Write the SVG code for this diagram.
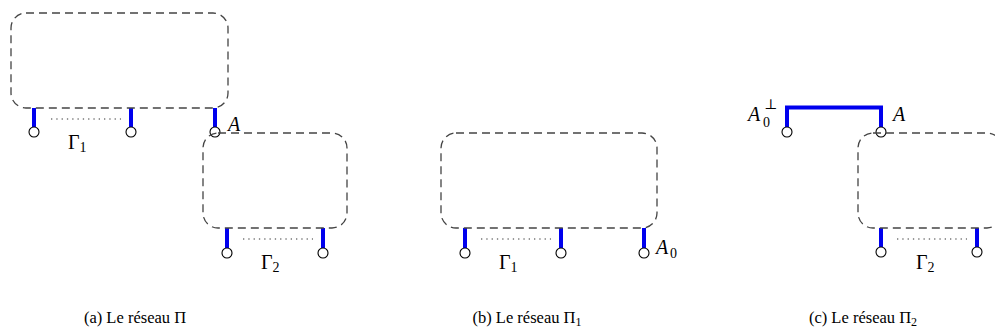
<svg xmlns="http://www.w3.org/2000/svg" width="995" height="335" viewBox="0 0 995 335">
<style>
.box{fill:none;stroke:#444;stroke-width:1.3;stroke-dasharray:8 5}
.stub{stroke:#0000ee;stroke-width:4;fill:none}
.port{fill:#fff;stroke:#000;stroke-width:1.1}
.dots{stroke:#333;stroke-width:1.2;stroke-dasharray:1.3 4}
text{font-family:"Liberation Serif","DejaVu Serif","Times New Roman",serif;fill:#000}
.m{font-size:20px}
.mi{font-size:20px;font-style:italic}
.sub{font-size:14px}
.cap{font-size:16.5px;text-anchor:middle}
</style>
<rect width="995" height="335" fill="#fff"/>
<g id="connectors">
<path class="stub" d="M34 108V127M131 108V127M215 108V127"/>
<path class="stub" d="M227 228V248M323 228V248"/>
<path class="stub" d="M465 228V248M561 228V248M644 228V248"/>
<path class="stub" d="M787 127V107.5H881V127"/>
<path class="stub" d="M881 228V247M977 228V247"/>
<line class="dots" x1="51" y1="119" x2="121" y2="119"/>
<line class="dots" x1="243" y1="239" x2="313" y2="239"/>
<line class="dots" x1="481" y1="239" x2="551" y2="239"/>
<line class="dots" x1="897" y1="239" x2="967" y2="239"/>
</g>
<g id="ports">
<circle class="port" cx="34" cy="132" r="5"/>
<circle class="port" cx="131" cy="132" r="5"/>
<circle class="port" cx="215" cy="132" r="5"/>
<circle class="port" cx="227" cy="253" r="5"/>
<circle class="port" cx="323" cy="253" r="5"/>
<circle class="port" cx="465" cy="253" r="5"/>
<circle class="port" cx="561" cy="253" r="5"/>
<circle class="port" cx="644" cy="253" r="5"/>
<circle class="port" cx="787" cy="132" r="5"/>
<circle class="port" cx="881" cy="132" r="5"/>
<circle class="port" cx="881" cy="252" r="5"/>
<circle class="port" cx="977" cy="252" r="5"/>
</g>
<g id="net-pi-1"><rect class="box" x="11" y="13" width="217" height="95" rx="15"/></g>
<g id="net-pi-2"><rect class="box" x="203" y="133" width="144" height="95" rx="15"/></g>
<g id="net-pi1"><rect class="box" x="441" y="133" width="216" height="95" rx="15"/></g>
<g id="net-pi2"><rect class="box" x="858" y="133" width="144" height="95" rx="15"/></g>
<g id="labels">
<text class="mi" x="228" y="131">A</text>
<text class="m" x="68" y="149">Γ<tspan class="sub" dy="3">1</tspan></text>
<text class="m" x="261" y="269">Γ<tspan class="sub" dy="3">2</tspan></text>
<text class="mi" x="656" y="254">A</text><text class="sub" x="670" y="258">0</text>
<text class="m" x="499" y="269">Γ<tspan class="sub" dy="3">1</tspan></text>
<text class="mi" x="893" y="121">A</text>
<text class="mi" x="748" y="121">A</text><text class="sub" x="763" y="127">0</text><text class="sub" x="764" y="109">⊥</text>
<text class="m" x="916" y="269">Γ<tspan class="sub" dy="3">2</tspan></text>
</g>
<g id="captions">
<text class="cap" x="135" y="323">(a) Le réseau Π</text>
<text class="cap" x="527" y="323">(b) Le réseau Π<tspan font-size="12" dy="3">1</tspan></text>
<text class="cap" x="863" y="323">(c) Le réseau Π<tspan font-size="12" dy="3">2</tspan></text>
</g>
</svg>
